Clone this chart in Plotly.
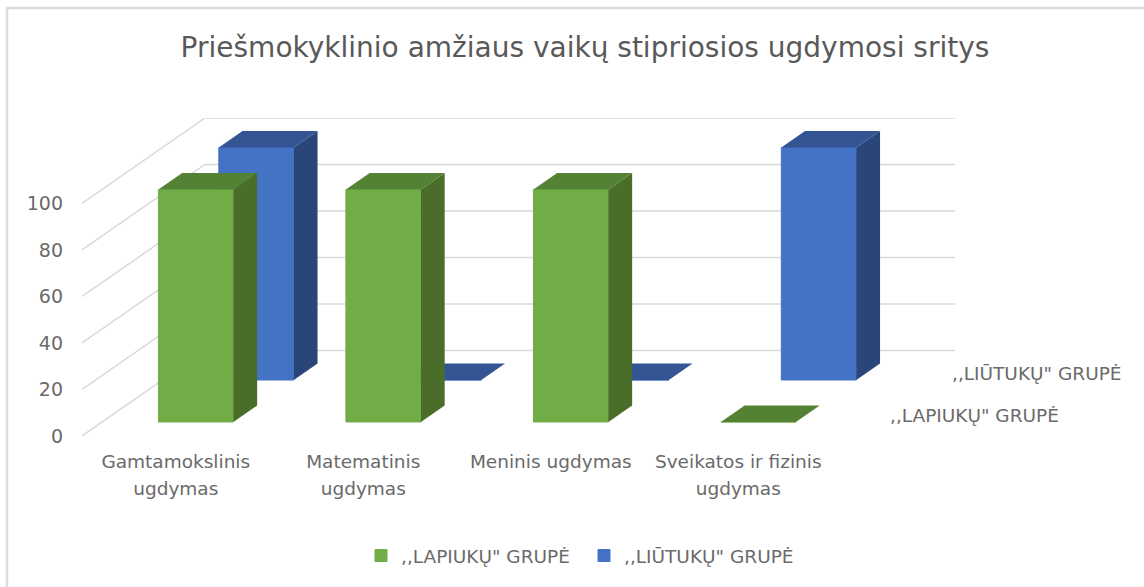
import plotly.graph_objects as go

categories = ["Gamtamokslinis<br>ugdymas", "Matematinis<br>ugdymas", "Meninis ugdymas", "Sveikatos ir fizinis<br>ugdymas"]
lapiukai = [100, 100, 100, 0]
liutukai = [100, 0, 0, 100]
tick_values = [0, 20, 40, 60, 80, 100]
series_names = [',,LAPIUKŲ" GRUPĖ', ',,LIŪTUKŲ" GRUPĖ']

W, H = 1144, 587
L, R, T, B = 82, 955, 118, 436
UNIT_X = 187.5
UNIT_Y = 2.325
DX = 123 / UNIT_X
DY = 85.5 / UNIT_Y
BAR_W = 0.4
XR = [-0.5, -0.5 + (R - L) / UNIT_X]
YR = [0, (B - T) / UNIT_Y]
FONT = "DejaVu Sans"
TXT = "#6a6a6a"

def px(x, y):
    return dict(x=(x - L) / (R - L), y=(B - y) / (B - T))

def pt(x, v, t):
    return x + t * DX, v + t * DY

def faces(values, t0, t1):
    top_x, top_y, side_x, side_y = [], [], [], []
    for i, v in enumerate(values):
        a, b = i - BAR_W / 2, i + BAR_W / 2
        for xx, yy, poly in (
            (top_x, top_y, [(a, v, t0), (b, v, t0), (b, v, t1), (a, v, t1), (a, v, t0)]),
            (side_x, side_y, [(b, 0, t0), (b, v, t0), (b, v, t1), (b, 0, t1), (b, 0, t0)]),
        ):
            for p in poly:
                X, Y = pt(*p)
                xx.append(X); yy.append(Y)
            xx.append(None); yy.append(None)
    return top_x, top_y, side_x, side_y

def add_series(fig, name, values, t0, t1, front, top, side, xa, ya):
    top_x, top_y, side_x, side_y = faces(values, t0, t1)
    fig.add_bar(x=[i + t0 * DX for i in range(len(values))], y=values, base=t0 * DY, width=BAR_W,
                name=name, marker=dict(color=front, line=dict(color=front, width=1)), xaxis=xa, yaxis=ya)
    fig.add_scatter(x=side_x, y=side_y, fill="toself", fillcolor=side, mode="none", showlegend=False, xaxis=xa, yaxis=ya)
    fig.add_scatter(x=top_x, y=top_y, fill="toself", fillcolor=top, mode="none", showlegend=False, xaxis=xa, yaxis=ya)

fig = go.Figure()

# walls / gridlines (lowest subplot)
gx, gy = [], []
for v in tick_values:
    for p in [(XR[0], v, 0), (XR[0], v, 1), (XR[0] + 4, v, 1)]:
        X, Y = pt(*p)
        gx.append(X); gy.append(Y)
    gx.append(None); gy.append(None)
fig.add_scatter(x=gx, y=gy, mode="lines", line=dict(color="#d9d9d9", width=1.5), showlegend=False, cliponaxis=False)

add_series(fig, series_names[0], lapiukai, 0.164, 0.357, "#70ad47", "#548235", "#4a6d2a", "x3", "y3")
add_series(fig, series_names[1], liutukai, 0.655, 0.848, "#4472c4", "#335593", "#2a4679", "x2", "y2")

TICK = 18.5
tick_text = ["<br>".join(f'<span style="font-size:{TICK}px">{s}</span>' for s in c.split("<br>")) for c in categories]
hidden_x = dict(range=XR, overlaying="x", visible=False)
hidden_y = dict(range=YR, overlaying="y", visible=False)

fig.update_layout(
    width=W, height=H, margin=dict(l=L, r=W - R, t=T, b=H - B),
    paper_bgcolor="white", plot_bgcolor="white", barmode="overlay",
    title=dict(text="Priešmokyklinio amžiaus vaikų stipriosios ugdymosi sritys", x=585 / W, xanchor="center",
               y=1 - 47 / H, yanchor="middle", font=dict(family=FONT, size=28, color="#595959")),
    xaxis=dict(range=XR, tickmode="array", tickvals=list(range(4)), ticktext=tick_text, showgrid=False, zeroline=False,
               showline=False, ticks="", ticklabelstandoff=10, tickfont=dict(family=FONT, size=21, color=TXT)),
    yaxis=dict(range=YR, tickmode="array", tickvals=tick_values, showgrid=False, zeroline=False, showline=False,
               ticks="", ticklabelstandoff=18, tickfont=dict(family=FONT, size=19, color=TXT)),
    xaxis2=hidden_x, yaxis2=hidden_y, xaxis3=hidden_x, yaxis3=hidden_y,
    legend=dict(orientation="h", x=(361 - L) / (R - L), xanchor="left", y=(B - 556) / (B - T), yanchor="middle",
                font=dict(family=FONT, size=TICK, color=TXT), traceorder="normal", entrywidth=178, entrywidthmode="pixels"),
    annotations=[
        dict(text=series_names[1], xref="paper", yref="paper", **px(1037, 373), xanchor="center", yanchor="middle",
             showarrow=False, font=dict(family=FONT, size=TICK, color=TXT)),
        dict(text=series_names[0], xref="paper", yref="paper", **px(975, 415), xanchor="center", yanchor="middle",
             showarrow=False, font=dict(family=FONT, size=TICK, color=TXT)),
    ],
    shapes=[
        dict(type="line", xref="paper", yref="paper", x0=(7 - L) / (R - L), x1=(7 - L) / (R - L), y0=(B - 7) / (B - T), y1=(B - H) / (B - T),
             line=dict(color="#dcdcdc", width=2.5), layer="below"),
        dict(type="line", xref="paper", yref="paper", x0=(6 - L) / (R - L), x1=(W - L) / (R - L), y0=(B - 8) / (B - T), y1=(B - 8) / (B - T),
             line=dict(color="#dcdcdc", width=2.5), layer="below"),
    ],
)
fig.write_html("out.html", config={"displayModeBar": False}, post_script="document.body.style.margin='0';")
